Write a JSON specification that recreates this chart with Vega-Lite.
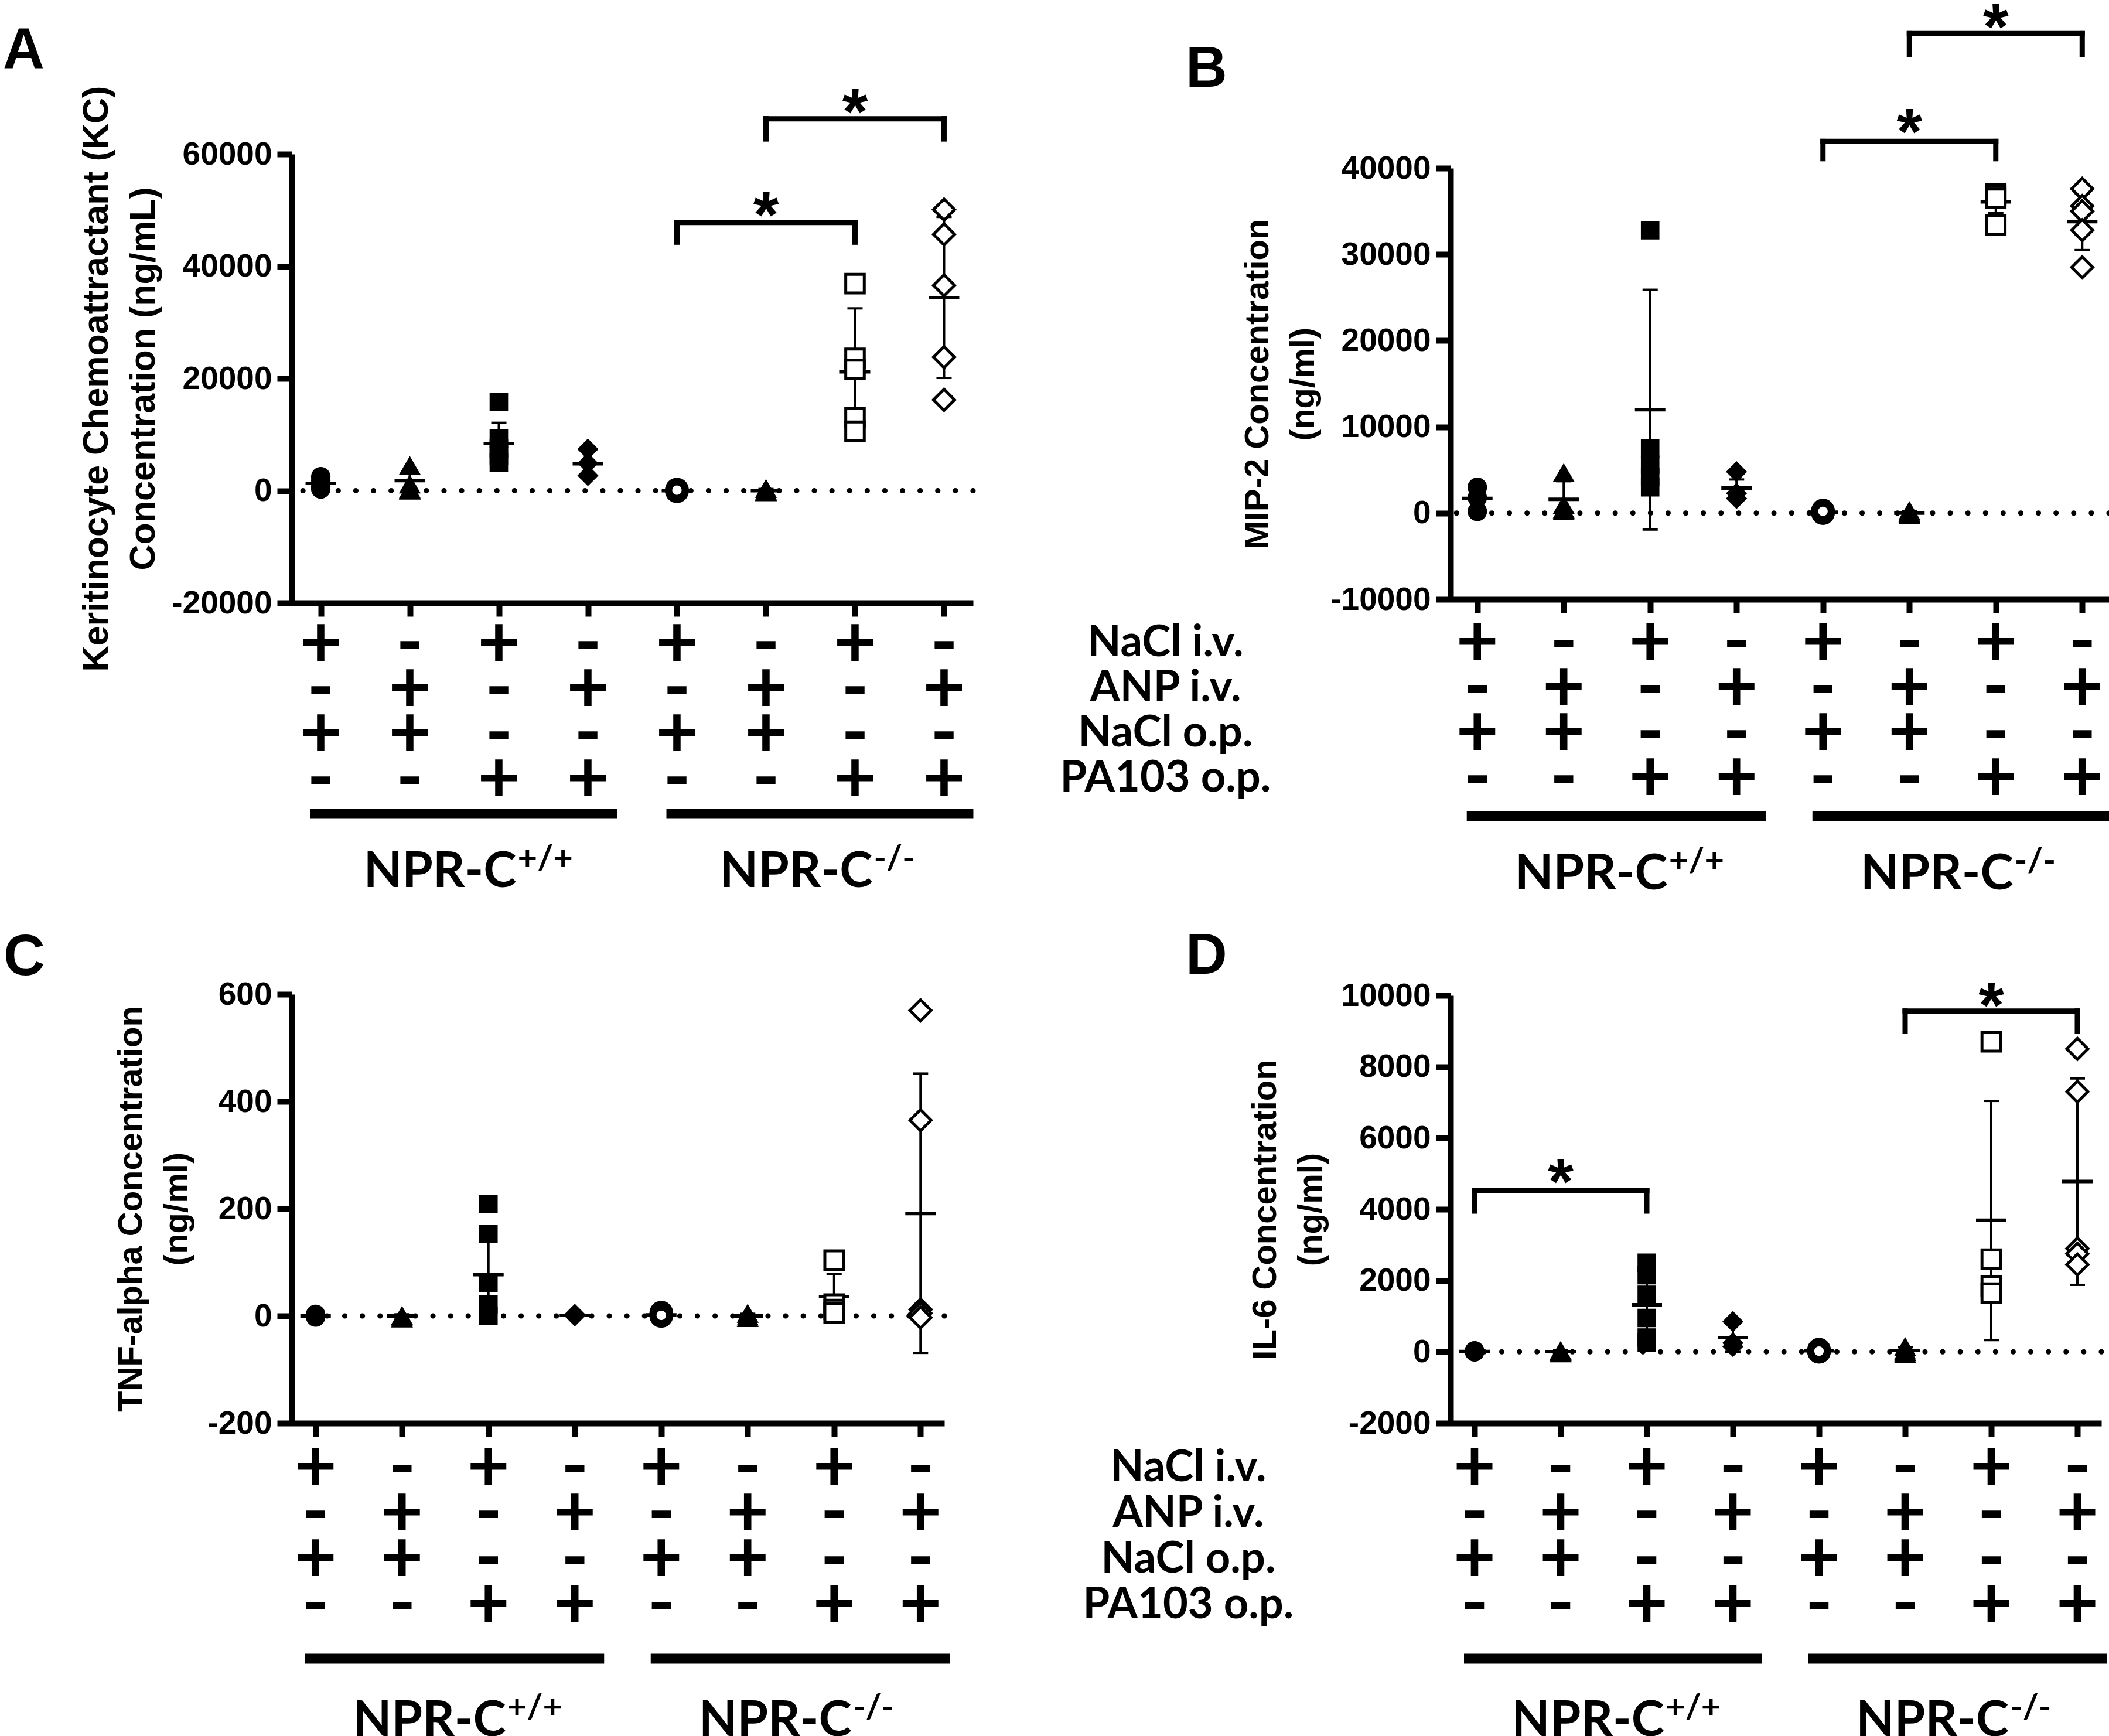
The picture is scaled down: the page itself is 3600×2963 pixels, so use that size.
{
"$schema": "https://vega.github.io/schema/vega-lite/v6.json",
"background": "white",
"padding": {"left": 5, "top": -7, "right": 0, "bottom": 0},
"autosize": {"type": "pad"},
"config": {
  "view": {"stroke": null},
  "axis": {"grid": false, "domainColor": "black", "tickColor": "black", "labelColor": "black", "titleColor": "black", "labelFont": "Liberation Sans", "titleFont": "Liberation Sans", "labelFontWeight": "bold", "titleFontWeight": "bold"}
},
"datasets": {
  "pts": [
    {"p":"A","g":1,"v":2500},{"p":"A","g":1,"v":1800},{"p":"A","g":1,"v":700},{"p":"A","g":1,"v":300},
    {"p":"A","g":2,"v":4500},{"p":"A","g":2,"v":1200},{"p":"A","g":2,"v":300},{"p":"A","g":2,"v":100},
    {"p":"A","g":3,"v":15800},{"p":"A","g":3,"v":9300},{"p":"A","g":3,"v":7500},{"p":"A","g":3,"v":6200},{"p":"A","g":3,"v":5000},
    {"p":"A","g":4,"v":7400},{"p":"A","g":4,"v":4900},{"p":"A","g":4,"v":2700},
    {"p":"A","g":5,"v":200},{"p":"A","g":5,"v":0},{"p":"A","g":5,"v":-100},{"p":"A","g":5,"v":100},
    {"p":"A","g":6,"v":400},{"p":"A","g":6,"v":0},{"p":"A","g":6,"v":-200},{"p":"A","g":6,"v":-100},
    {"p":"A","g":7,"v":36900},{"p":"A","g":7,"v":23600},{"p":"A","g":7,"v":21600},{"p":"A","g":7,"v":13000},{"p":"A","g":7,"v":10600},
    {"p":"A","g":8,"v":50100},{"p":"A","g":8,"v":45700},{"p":"A","g":8,"v":36600},{"p":"A","g":8,"v":23800},{"p":"A","g":8,"v":16200},
    {"p":"B","g":1,"v":3000},{"p":"B","g":1,"v":1800},{"p":"B","g":1,"v":200},
    {"p":"B","g":2,"v":4700},{"p":"B","g":2,"v":1000},{"p":"B","g":2,"v":500},{"p":"B","g":2,"v":300},
    {"p":"B","g":3,"v":32800},{"p":"B","g":3,"v":7500},{"p":"B","g":3,"v":5600},{"p":"B","g":3,"v":4200},{"p":"B","g":3,"v":3000},
    {"p":"B","g":4,"v":4800},{"p":"B","g":4,"v":2300},{"p":"B","g":4,"v":1700},
    {"p":"B","g":5,"v":300},{"p":"B","g":5,"v":100},{"p":"B","g":5,"v":0},{"p":"B","g":5,"v":200},
    {"p":"B","g":6,"v":-200},{"p":"B","g":6,"v":100},{"p":"B","g":6,"v":300},{"p":"B","g":6,"v":0},
    {"p":"B","g":7,"v":37000},{"p":"B","g":7,"v":36800},{"p":"B","g":7,"v":36500},{"p":"B","g":7,"v":33400},
    {"p":"B","g":8,"v":37600},{"p":"B","g":8,"v":35600},{"p":"B","g":8,"v":35000},{"p":"B","g":8,"v":32800},{"p":"B","g":8,"v":28500},
    {"p":"C","g":1,"v":3},{"p":"C","g":1,"v":0},{"p":"C","g":1,"v":-2},{"p":"C","g":1,"v":1},
    {"p":"C","g":2,"v":-2},{"p":"C","g":2,"v":1},{"p":"C","g":2,"v":0},{"p":"C","g":2,"v":-4},
    {"p":"C","g":3,"v":209},{"p":"C","g":3,"v":153},{"p":"C","g":3,"v":62},{"p":"C","g":3,"v":22},{"p":"C","g":3,"v":0},
    {"p":"C","g":4,"v":3},{"p":"C","g":4,"v":0},{"p":"C","g":4,"v":1},
    {"p":"C","g":5,"v":6},{"p":"C","g":5,"v":0},{"p":"C","g":5,"v":3},{"p":"C","g":5,"v":1},
    {"p":"C","g":6,"v":5},{"p":"C","g":6,"v":-3},{"p":"C","g":6,"v":0},
    {"p":"C","g":7,"v":104},{"p":"C","g":7,"v":22},{"p":"C","g":7,"v":12},{"p":"C","g":7,"v":5},
    {"p":"C","g":8,"v":570},{"p":"C","g":8,"v":365},{"p":"C","g":8,"v":12},{"p":"C","g":8,"v":5},{"p":"C","g":8,"v":-3},
    {"p":"D","g":1,"v":30},{"p":"D","g":1,"v":0},{"p":"D","g":1,"v":10},{"p":"D","g":1,"v":20},
    {"p":"D","g":2,"v":40},{"p":"D","g":2,"v":-30},{"p":"D","g":2,"v":0},{"p":"D","g":2,"v":10},
    {"p":"D","g":3,"v":2500},{"p":"D","g":3,"v":2150},{"p":"D","g":3,"v":1600},{"p":"D","g":3,"v":950},{"p":"D","g":3,"v":400},{"p":"D","g":3,"v":250},
    {"p":"D","g":4,"v":850},{"p":"D","g":4,"v":250},{"p":"D","g":4,"v":150},
    {"p":"D","g":5,"v":60},{"p":"D","g":5,"v":0},{"p":"D","g":5,"v":20},
    {"p":"D","g":6,"v":150},{"p":"D","g":6,"v":-50},{"p":"D","g":6,"v":0},{"p":"D","g":6,"v":50},
    {"p":"D","g":7,"v":8700},{"p":"D","g":7,"v":2600},{"p":"D","g":7,"v":1850},{"p":"D","g":7,"v":1650},
    {"p":"D","g":8,"v":8500},{"p":"D","g":8,"v":7300},{"p":"D","g":8,"v":2900},{"p":"D","g":8,"v":2750},{"p":"D","g":8,"v":2450}
  ],
  "sum": [
    {"p":"A","g":1,"m":1300,"lo":300,"hi":2300},{"p":"A","g":2,"m":1800,"lo":-100,"hi":3700},{"p":"A","g":3,"m":8400,"lo":4700,"hi":12100},{"p":"A","g":4,"m":4800,"lo":2400,"hi":7200},
    {"p":"A","g":5,"m":0,"lo":-200,"hi":200},{"p":"A","g":6,"m":0,"lo":-300,"hi":300},{"p":"A","g":7,"m":21200,"lo":9900,"hi":32500},{"p":"A","g":8,"m":34400,"lo":20100,"hi":48800},
    {"p":"B","g":1,"m":1700,"lo":300,"hi":3100},{"p":"B","g":2,"m":1600,"lo":-400,"hi":3700},{"p":"B","g":3,"m":12000,"lo":-1900,"hi":25900},{"p":"B","g":4,"m":2900,"lo":1700,"hi":3900},
    {"p":"B","g":5,"m":100,"lo":-100,"hi":300},{"p":"B","g":6,"m":0,"lo":-200,"hi":200},{"p":"B","g":7,"m":36100,"lo":34800,"hi":37400},{"p":"B","g":8,"m":33800,"lo":30500,"hi":37100},
    {"p":"C","g":1,"m":0,"lo":-2,"hi":2},{"p":"C","g":2,"m":0,"lo":-3,"hi":3},{"p":"C","g":3,"m":77,"lo":15,"hi":138},{"p":"C","g":4,"m":1,"lo":-1,"hi":3},
    {"p":"C","g":5,"m":2,"lo":-1,"hi":5},{"p":"C","g":6,"m":0,"lo":-4,"hi":4},{"p":"C","g":7,"m":36,"lo":-10,"hi":78},{"p":"C","g":8,"m":191,"lo":-69,"hi":452},
    {"p":"D","g":1,"m":10,"lo":0,"hi":25},{"p":"D","g":2,"m":5,"lo":-30,"hi":40},{"p":"D","g":3,"m":1320,"lo":500,"hi":2150},{"p":"D","g":4,"m":400,"lo":0,"hi":800},
    {"p":"D","g":5,"m":30,"lo":0,"hi":60},{"p":"D","g":6,"m":40,"lo":-50,"hi":130},{"p":"D","g":7,"m":3690,"lo":330,"hi":7040},{"p":"D","g":8,"m":4780,"lo":1880,"hi":7670}
  ],
  "br": [
    {"p":"A","a":5,"b":7,"top":47800,"bot":44300},{"p":"A","a":6,"b":8,"top":66300,"bot":62700},
    {"p":"B","a":5,"b":7,"top":43100,"bot":41100},{"p":"B","a":6,"b":8,"top":55600,"bot":53200},
    {"p":"D","a":1,"b":3,"top":4520,"bot":3950},{"p":"D","a":6,"b":8,"top":9560,"bot":8990}
  ],
  "ast": [
    {"p":"A","m":6,"y":51400},{"p":"A","m":7,"y":69800},
    {"p":"B","m":6,"y":45700},{"p":"B","m":7,"y":57900},
    {"p":"D","m":2,"y":5130},{"p":"D","m":7,"y":10090}
  ],
  "tbl": [
    {"g":1,"row":"NaCl i.v.","s":"+"},{"g":2,"row":"NaCl i.v.","s":"-"},{"g":3,"row":"NaCl i.v.","s":"+"},{"g":4,"row":"NaCl i.v.","s":"-"},
    {"g":5,"row":"NaCl i.v.","s":"+"},{"g":6,"row":"NaCl i.v.","s":"-"},{"g":7,"row":"NaCl i.v.","s":"+"},{"g":8,"row":"NaCl i.v.","s":"-"},
    {"g":1,"row":"ANP i.v.","s":"-"},{"g":2,"row":"ANP i.v.","s":"+"},{"g":3,"row":"ANP i.v.","s":"-"},{"g":4,"row":"ANP i.v.","s":"+"},
    {"g":5,"row":"ANP i.v.","s":"-"},{"g":6,"row":"ANP i.v.","s":"+"},{"g":7,"row":"ANP i.v.","s":"-"},{"g":8,"row":"ANP i.v.","s":"+"},
    {"g":1,"row":"NaCl o.p.","s":"+"},{"g":2,"row":"NaCl o.p.","s":"+"},{"g":3,"row":"NaCl o.p.","s":"-"},{"g":4,"row":"NaCl o.p.","s":"-"},
    {"g":5,"row":"NaCl o.p.","s":"+"},{"g":6,"row":"NaCl o.p.","s":"+"},{"g":7,"row":"NaCl o.p.","s":"-"},{"g":8,"row":"NaCl o.p.","s":"-"},
    {"g":1,"row":"PA103 o.p.","s":"-"},{"g":2,"row":"PA103 o.p.","s":"-"},{"g":3,"row":"PA103 o.p.","s":"+"},{"g":4,"row":"PA103 o.p.","s":"+"},
    {"g":5,"row":"PA103 o.p.","s":"-"},{"g":6,"row":"PA103 o.p.","s":"-"},{"g":7,"row":"PA103 o.p.","s":"+"},{"g":8,"row":"PA103 o.p.","s":"+"}
  ],
  "grp": [
    {"a":1,"b":4,"m":3,"sup":"+/+"},{"a":5,"b":8,"m":7,"sup":"-/-"}
  ]
},
"spacing": 1978,
"bounds": "flush",
"resolve": {"scale": {"x": "independent", "y": "independent", "shape": "independent", "size": "independent"}},
"hconcat": [
 {
  "spacing": 0,
  "bounds": "flush",
  "resolve": {"scale": {"x": "independent", "y": "independent", "shape": "independent", "size": "independent"}},
  "vconcat": [
  {"width": 1163, "height": 262, "data": {"values": [{}]}, "mark": {"type": "rule", "opacity": 0}, "encoding": {}},
  {
    "width": 1163, "height": 766,
    "title": {"text": "A", "anchor": "start", "frame": "group", "dx": -493, "offset": -75, "fontSize": 98, "font": "Liberation Sans", "fontWeight": "bold", "color": "black", "baseline": "alphabetic"},
    "layer": [
      {"data": {"values": [{"z": 0}]},
       "mark": {"type": "rule", "strokeDash": [0.1, 30], "strokeCap": "round", "strokeWidth": 9, "color": "black"},
       "encoding": {"y": {"field": "z", "type": "quantitative", "scale": {"domain": [-20000, 60000], "nice": false, "zero": false},
         "axis": {"values": [-20000, 0, 20000, 40000, 60000], "labelExpr": "'' + datum.value", "title": ["Keritinocyte Chemoattractant (KC)", "Concentration (ng/mL)"], "titleFontSize": 61, "titleLineHeight": 80, "titlePadding": 22, "titleLimit": 3000, "labelFontSize": 55, "labelPadding": 9, "labelLimit": 1000, "labelOverlap": false, "labelFlush": false, "tickSize": 25, "tickWidth": 10, "domainWidth": 10}}}},
      {"data": {"name": "sum"}, "transform": [{"filter": "datum.p == 'A'"}],
       "mark": {"type": "rule", "strokeWidth": 4, "color": "black"},
       "encoding": {"x": {"field": "g", "type": "ordinal", "scale": {"type": "point", "domain": [1,2,3,4,5,6,7,8], "padding": 0.326}, "axis": {"labels": false, "title": null, "tickSize": 23, "tickWidth": 10, "domainWidth": 10}},
         "y": {"field": "lo", "type": "quantitative"}, "y2": {"field": "hi"}}},
      {"data": {"name": "sum"}, "transform": [{"filter": "datum.p == 'A'"}],
       "mark": {"type": "tick", "thickness": 4, "size": 26, "color": "black", "opacity": 1},
       "encoding": {"x": {"field": "g", "type": "ordinal"}, "y": {"field": "lo", "type": "quantitative"}}},
      {"data": {"name": "sum"}, "transform": [{"filter": "datum.p == 'A'"}],
       "mark": {"type": "tick", "thickness": 4, "size": 26, "color": "black", "opacity": 1},
       "encoding": {"x": {"field": "g", "type": "ordinal"}, "y": {"field": "hi", "type": "quantitative"}}},
      {"data": {"name": "sum"}, "transform": [{"filter": "datum.p == 'A'"}],
       "mark": {"type": "tick", "thickness": 6, "size": 52, "color": "black", "opacity": 1},
       "encoding": {"x": {"field": "g", "type": "ordinal"}, "y": {"field": "m", "type": "quantitative"}}},
      {"data": {"name": "pts"}, "transform": [{"filter": "datum.p == 'A' && (datum.g <= 4 || datum.g == 6)"}],
       "mark": {"type": "point", "filled": true, "color": "black", "opacity": 1},
       "encoding": {"x": {"field": "g", "type": "ordinal"}, "y": {"field": "v", "type": "quantitative"},
         "shape": {"field": "g", "type": "nominal", "scale": {"domain": [1,2,3,4,5,6,7,8], "range": ["circle","triangle-up","square","diamond","circle","triangle-up","square","diamond"]}, "legend": null},
         "size": {"field": "g", "type": "nominal", "scale": {"type": "ordinal", "domain": [1,2,3,4,5,6,7,8], "range": [1100,1400,1000,1300,800,1400,1000,1300]}, "legend": null}}},
      {"data": {"name": "pts"}, "transform": [{"filter": "datum.p == 'A' && datum.g == 5"}],
       "mark": {"type": "point", "shape": "circle", "filled": false, "stroke": "black", "fill": "white", "fillOpacity": 1, "opacity": 1, "strokeWidth": 12, "size": 800},
       "encoding": {"x": {"field": "g", "type": "ordinal"}, "y": {"field": "v", "type": "quantitative"}}},
      {"data": {"name": "pts"}, "transform": [{"filter": "datum.p == 'A' && datum.g == 7"}],
       "mark": {"type": "point", "shape": "square", "filled": false, "stroke": "black", "fill": "white", "fillOpacity": 1, "opacity": 1, "strokeWidth": 5, "size": 1000},
       "encoding": {"x": {"field": "g", "type": "ordinal"}, "y": {"field": "v", "type": "quantitative"}}},
      {"data": {"name": "pts"}, "transform": [{"filter": "datum.p == 'A' && datum.g == 8"}],
       "mark": {"type": "point", "shape": "diamond", "filled": false, "stroke": "black", "fill": "white", "fillOpacity": 1, "opacity": 1, "strokeWidth": 5, "size": 1300},
       "encoding": {"x": {"field": "g", "type": "ordinal"}, "y": {"field": "v", "type": "quantitative"}}},
      {"data": {"name": "br"}, "transform": [{"filter": "datum.p == 'A'"}],
       "mark": {"type": "rule", "strokeWidth": 9, "color": "black", "strokeCap": "square"},
       "encoding": {"x": {"field": "a", "type": "ordinal"}, "x2": {"field": "b"}, "y": {"field": "top", "type": "quantitative"}}},
      {"data": {"name": "br"}, "transform": [{"filter": "datum.p == 'A'"}],
       "mark": {"type": "rule", "strokeWidth": 9, "color": "black", "strokeCap": "square"},
       "encoding": {"x": {"field": "a", "type": "ordinal"}, "y": {"field": "top", "type": "quantitative"}, "y2": {"field": "bot"}}},
      {"data": {"name": "br"}, "transform": [{"filter": "datum.p == 'A'"}],
       "mark": {"type": "rule", "strokeWidth": 9, "color": "black", "strokeCap": "square"},
       "encoding": {"x": {"field": "b", "type": "ordinal"}, "y": {"field": "top", "type": "quantitative"}, "y2": {"field": "bot"}}},
      {"data": {"name": "ast"}, "transform": [{"filter": "datum.p == 'A'"}],
       "mark": {"type": "text", "text": "*", "font": "Liberation Sans", "fontWeight": "bold", "fontSize": 112, "color": "black", "align": "center", "baseline": "alphabetic", "dy": 60},
       "encoding": {"x": {"field": "m", "type": "ordinal"}, "y": {"field": "y", "type": "quantitative"}}}
    ]
  },
  {
    "width": 1163, "height": 668,
    "layer": [
      {"data": {"name": "tbl"},
       "mark": {"type": "text", "font": "Lato", "fontWeight": "bold", "fontSize": 125, "color": "black", "align": "center", "baseline": "middle"},
       "encoding": {"x": {"field": "g", "type": "ordinal", "scale": {"type": "point", "domain": [1,2,3,4,5,6,7,8], "padding": 0.326}, "axis": null},
         "y": {"field": "row", "type": "ordinal", "scale": {"type": "point", "domain": ["NaCl i.v.", "ANP i.v.", "NaCl o.p.", "PA103 o.p.", "bar", "lab", "e1", "e2"], "padding": 0.8377, "align": 0.5504}, "axis": null},
         "text": {"field": "s"}}},
      {"data": {"name": "grp"},
       "mark": {"type": "rule", "strokeWidth": 17, "color": "black", "xOffset": -18, "x2Offset": 50, "yOffset": -19},
       "encoding": {"x": {"field": "a", "type": "ordinal", "axis": null}, "x2": {"field": "b"}, "y": {"datum": "bar", "type": "ordinal", "axis": null}}},
      {"data": {"name": "grp"},
       "mark": {"type": "text", "text": "NPR-C", "font": "Lato", "fontWeight": "bold", "fontSize": 85, "color": "black", "align": "right", "baseline": "alphabetic", "dx": 30, "dy": 29},
       "encoding": {"x": {"field": "m", "type": "ordinal", "axis": null}, "y": {"datum": "lab", "type": "ordinal", "axis": null}}},
      {"data": {"name": "grp"},
       "mark": {"type": "text", "font": "Lato", "fontWeight": "bold", "fontSize": 58, "color": "black", "align": "left", "baseline": "alphabetic", "dx": 32, "dy": -1},
       "encoding": {"x": {"field": "m", "type": "ordinal", "axis": null}, "y": {"datum": "lab", "type": "ordinal", "axis": null}, "text": {"field": "sup"}}}
    ]
  },
  {
    "width": 1114, "height": 732,
    "title": {"text": "C", "anchor": "start", "frame": "group", "dx": -492, "offset": -92, "fontSize": 98, "font": "Liberation Sans", "fontWeight": "bold", "color": "black", "baseline": "alphabetic"},
    "layer": [
      {"data": {"values": [{"z": 0}]},
       "mark": {"type": "rule", "strokeDash": [0.1, 30], "strokeCap": "round", "strokeWidth": 9, "color": "black"},
       "encoding": {"y": {"field": "z", "type": "quantitative", "scale": {"domain": [-200, 600], "nice": false, "zero": false},
         "axis": {"values": [-200, 0, 200, 400, 600], "labelExpr": "'' + datum.value", "title": ["TNF-alpha Concentration", "(ng/ml)"], "titleFontSize": 58, "titleLineHeight": 78, "titlePadding": 22, "titleLimit": 3000, "labelFontSize": 55, "labelPadding": 9, "labelLimit": 1000, "labelOverlap": false, "labelFlush": false, "tickSize": 25, "tickWidth": 10, "domainWidth": 10}}}},
      {"data": {"name": "sum"}, "transform": [{"filter": "datum.p == 'C'"}],
       "mark": {"type": "rule", "strokeWidth": 4, "color": "black"},
       "encoding": {"x": {"field": "g", "type": "ordinal", "scale": {"type": "point", "domain": [1,2,3,4,5,6,7,8], "padding": 0.276}, "axis": {"labels": false, "title": null, "tickSize": 23, "tickWidth": 10, "domainWidth": 10}},
         "y": {"field": "lo", "type": "quantitative"}, "y2": {"field": "hi"}}},
      {"data": {"name": "sum"}, "transform": [{"filter": "datum.p == 'C'"}],
       "mark": {"type": "tick", "thickness": 4, "size": 26, "color": "black", "opacity": 1},
       "encoding": {"x": {"field": "g", "type": "ordinal"}, "y": {"field": "lo", "type": "quantitative"}}},
      {"data": {"name": "sum"}, "transform": [{"filter": "datum.p == 'C'"}],
       "mark": {"type": "tick", "thickness": 4, "size": 26, "color": "black", "opacity": 1},
       "encoding": {"x": {"field": "g", "type": "ordinal"}, "y": {"field": "hi", "type": "quantitative"}}},
      {"data": {"name": "sum"}, "transform": [{"filter": "datum.p == 'C'"}],
       "mark": {"type": "tick", "thickness": 6, "size": 52, "color": "black", "opacity": 1},
       "encoding": {"x": {"field": "g", "type": "ordinal"}, "y": {"field": "m", "type": "quantitative"}}},
      {"data": {"name": "pts"}, "transform": [{"filter": "datum.p == 'C' && (datum.g <= 4 || datum.g == 6)"}],
       "mark": {"type": "point", "filled": true, "color": "black", "opacity": 1},
       "encoding": {"x": {"field": "g", "type": "ordinal"}, "y": {"field": "v", "type": "quantitative"},
         "shape": {"field": "g", "type": "nominal", "scale": {"domain": [1,2,3,4,5,6,7,8], "range": ["circle","triangle-up","square","diamond","circle","triangle-up","square","diamond"]}, "legend": null},
         "size": {"field": "g", "type": "nominal", "scale": {"type": "ordinal", "domain": [1,2,3,4,5,6,7,8], "range": [1100,1400,1000,1300,800,1400,1000,1300]}, "legend": null}}},
      {"data": {"name": "pts"}, "transform": [{"filter": "datum.p == 'C' && datum.g == 5"}],
       "mark": {"type": "point", "shape": "circle", "filled": false, "stroke": "black", "fill": "white", "fillOpacity": 1, "opacity": 1, "strokeWidth": 12, "size": 800},
       "encoding": {"x": {"field": "g", "type": "ordinal"}, "y": {"field": "v", "type": "quantitative"}}},
      {"data": {"name": "pts"}, "transform": [{"filter": "datum.p == 'C' && datum.g == 7"}],
       "mark": {"type": "point", "shape": "square", "filled": false, "stroke": "black", "fill": "white", "fillOpacity": 1, "opacity": 1, "strokeWidth": 5, "size": 1000},
       "encoding": {"x": {"field": "g", "type": "ordinal"}, "y": {"field": "v", "type": "quantitative"}}},
      {"data": {"name": "pts"}, "transform": [{"filter": "datum.p == 'C' && datum.g == 8"}],
       "mark": {"type": "point", "shape": "diamond", "filled": false, "stroke": "black", "fill": "white", "fillOpacity": 1, "opacity": 1, "strokeWidth": 5, "size": 1300},
       "encoding": {"x": {"field": "g", "type": "ordinal"}, "y": {"field": "v", "type": "quantitative"}}}
    ]
  },
  {
    "width": 1114, "height": 535,
    "layer": [
      {"data": {"name": "tbl"},
       "mark": {"type": "text", "font": "Lato", "fontWeight": "bold", "fontSize": 125, "color": "black", "align": "center", "baseline": "middle"},
       "encoding": {"x": {"field": "g", "type": "ordinal", "scale": {"type": "point", "domain": [1,2,3,4,5,6,7,8], "padding": 0.276}, "axis": null},
         "y": {"field": "row", "type": "ordinal", "scale": {"type": "point", "domain": ["NaCl i.v.", "ANP i.v.", "NaCl o.p.", "PA103 o.p.", "bar", "lab"], "padding": 0.9295, "align": 0.531}, "axis": null},
         "text": {"field": "s"}}},
      {"data": {"name": "grp"},
       "mark": {"type": "rule", "strokeWidth": 17, "color": "black", "xOffset": -18, "x2Offset": 50, "yOffset": 13},
       "encoding": {"x": {"field": "a", "type": "ordinal", "axis": null}, "x2": {"field": "b"}, "y": {"datum": "bar", "type": "ordinal", "axis": null}}},
      {"data": {"name": "grp"},
       "mark": {"type": "text", "text": "NPR-C", "font": "Lato", "fontWeight": "bold", "fontSize": 85, "color": "black", "align": "right", "baseline": "alphabetic", "dx": 30, "dy": 67},
       "encoding": {"x": {"field": "m", "type": "ordinal", "axis": null}, "y": {"datum": "lab", "type": "ordinal", "axis": null}}},
      {"data": {"name": "grp"},
       "mark": {"type": "text", "font": "Lato", "fontWeight": "bold", "fontSize": 58, "color": "black", "align": "left", "baseline": "alphabetic", "dx": 32, "dy": 37},
       "encoding": {"x": {"field": "m", "type": "ordinal", "axis": null}, "y": {"datum": "lab", "type": "ordinal", "axis": null}, "text": {"field": "sup"}}}
    ]
  }
  ]
 },
 {
  "spacing": 0,
  "bounds": "flush",
  "resolve": {"scale": {"x": "independent", "y": "independent", "shape": "independent", "size": "independent"}},
  "vconcat": [
  {"width": 1124, "height": 286, "data": {"values": [{}]}, "mark": {"type": "rule", "opacity": 0}, "encoding": {}},
  {
    "width": 1124, "height": 736,
    "title": {"text": "B", "anchor": "start", "frame": "group", "dx": -452, "offset": -252, "fontSize": 98, "font": "Liberation Sans", "fontWeight": "bold", "color": "black", "baseline": "alphabetic"},
    "layer": [
      {"data": {"values": [{"z": 0}]},
       "mark": {"type": "rule", "strokeDash": [0.1, 30], "strokeCap": "round", "strokeWidth": 9, "color": "black"},
       "encoding": {"y": {"field": "z", "type": "quantitative", "scale": {"domain": [-10000, 40000], "nice": false, "zero": false},
         "axis": {"values": [-10000, 0, 10000, 20000, 30000, 40000], "labelExpr": "'' + datum.value", "title": ["MIP-2 Concentration", "(ng/ml)"], "titleFontSize": 58, "titleLineHeight": 78, "titlePadding": 22, "titleLimit": 3000, "labelFontSize": 55, "labelPadding": 9, "labelLimit": 1000, "labelOverlap": false, "labelFlush": false, "tickSize": 25, "tickWidth": 10, "domainWidth": 10}}}},
      {"data": {"name": "sum"}, "transform": [{"filter": "datum.p == 'B'"}],
       "mark": {"type": "rule", "strokeWidth": 4, "color": "black"},
       "encoding": {"x": {"field": "g", "type": "ordinal", "scale": {"type": "point", "domain": [1,2,3,4,5,6,7,8], "padding": 0.31}, "axis": {"labels": false, "title": null, "tickSize": 23, "tickWidth": 10, "domainWidth": 10}},
         "y": {"field": "lo", "type": "quantitative"}, "y2": {"field": "hi"}}},
      {"data": {"name": "sum"}, "transform": [{"filter": "datum.p == 'B'"}],
       "mark": {"type": "tick", "thickness": 4, "size": 26, "color": "black", "opacity": 1},
       "encoding": {"x": {"field": "g", "type": "ordinal"}, "y": {"field": "lo", "type": "quantitative"}}},
      {"data": {"name": "sum"}, "transform": [{"filter": "datum.p == 'B'"}],
       "mark": {"type": "tick", "thickness": 4, "size": 26, "color": "black", "opacity": 1},
       "encoding": {"x": {"field": "g", "type": "ordinal"}, "y": {"field": "hi", "type": "quantitative"}}},
      {"data": {"name": "sum"}, "transform": [{"filter": "datum.p == 'B'"}],
       "mark": {"type": "tick", "thickness": 6, "size": 52, "color": "black", "opacity": 1},
       "encoding": {"x": {"field": "g", "type": "ordinal"}, "y": {"field": "m", "type": "quantitative"}}},
      {"data": {"name": "pts"}, "transform": [{"filter": "datum.p == 'B' && (datum.g <= 4 || datum.g == 6)"}],
       "mark": {"type": "point", "filled": true, "color": "black", "opacity": 1},
       "encoding": {"x": {"field": "g", "type": "ordinal"}, "y": {"field": "v", "type": "quantitative"},
         "shape": {"field": "g", "type": "nominal", "scale": {"domain": [1,2,3,4,5,6,7,8], "range": ["circle","triangle-up","square","diamond","circle","triangle-up","square","diamond"]}, "legend": null},
         "size": {"field": "g", "type": "nominal", "scale": {"type": "ordinal", "domain": [1,2,3,4,5,6,7,8], "range": [1100,1400,1000,1300,800,1400,1000,1300]}, "legend": null}}},
      {"data": {"name": "pts"}, "transform": [{"filter": "datum.p == 'B' && datum.g == 5"}],
       "mark": {"type": "point", "shape": "circle", "filled": false, "stroke": "black", "fill": "white", "fillOpacity": 1, "opacity": 1, "strokeWidth": 12, "size": 800},
       "encoding": {"x": {"field": "g", "type": "ordinal"}, "y": {"field": "v", "type": "quantitative"}}},
      {"data": {"name": "pts"}, "transform": [{"filter": "datum.p == 'B' && datum.g == 7"}],
       "mark": {"type": "point", "shape": "square", "filled": false, "stroke": "black", "fill": "white", "fillOpacity": 1, "opacity": 1, "strokeWidth": 5, "size": 1000},
       "encoding": {"x": {"field": "g", "type": "ordinal"}, "y": {"field": "v", "type": "quantitative"}}},
      {"data": {"name": "pts"}, "transform": [{"filter": "datum.p == 'B' && datum.g == 8"}],
       "mark": {"type": "point", "shape": "diamond", "filled": false, "stroke": "black", "fill": "white", "fillOpacity": 1, "opacity": 1, "strokeWidth": 5, "size": 1300},
       "encoding": {"x": {"field": "g", "type": "ordinal"}, "y": {"field": "v", "type": "quantitative"}}},
      {"data": {"name": "br"}, "transform": [{"filter": "datum.p == 'B'"}],
       "mark": {"type": "rule", "strokeWidth": 9, "color": "black", "strokeCap": "square"},
       "encoding": {"x": {"field": "a", "type": "ordinal"}, "x2": {"field": "b"}, "y": {"field": "top", "type": "quantitative"}}},
      {"data": {"name": "br"}, "transform": [{"filter": "datum.p == 'B'"}],
       "mark": {"type": "rule", "strokeWidth": 9, "color": "black", "strokeCap": "square"},
       "encoding": {"x": {"field": "a", "type": "ordinal"}, "y": {"field": "top", "type": "quantitative"}, "y2": {"field": "bot"}}},
      {"data": {"name": "br"}, "transform": [{"filter": "datum.p == 'B'"}],
       "mark": {"type": "rule", "strokeWidth": 9, "color": "black", "strokeCap": "square"},
       "encoding": {"x": {"field": "b", "type": "ordinal"}, "y": {"field": "top", "type": "quantitative"}, "y2": {"field": "bot"}}},
      {"data": {"name": "ast"}, "transform": [{"filter": "datum.p == 'B'"}],
       "mark": {"type": "text", "text": "*", "font": "Liberation Sans", "fontWeight": "bold", "fontSize": 112, "color": "black", "align": "center", "baseline": "alphabetic", "dy": 60},
       "encoding": {"x": {"field": "m", "type": "ordinal"}, "y": {"field": "y", "type": "quantitative"}}}
    ]
  },
  {
    "width": 1124, "height": 676,
    "layer": [
      {"data": {"name": "tbl"},
       "mark": {"type": "text", "font": "Lato", "fontWeight": "bold", "fontSize": 125, "color": "black", "align": "center", "baseline": "middle"},
       "encoding": {"x": {"field": "g", "type": "ordinal", "scale": {"type": "point", "domain": [1,2,3,4,5,6,7,8], "padding": 0.31}, "axis": null},
         "y": {"field": "row", "type": "ordinal", "scale": {"type": "point", "domain": ["NaCl i.v.", "ANP i.v.", "NaCl o.p.", "PA103 o.p.", "bar", "lab", "e1", "e2"], "padding": 0.8896, "align": 0.5474},
           "axis": {"values": ["NaCl i.v.", "ANP i.v.", "NaCl o.p.", "PA103 o.p."], "domain": false, "ticks": false, "tickSize": 0, "labelPadding": 487, "labelAlign": "center", "labelBaseline": "middle", "labelFont": "Lato", "labelFontWeight": "bold", "labelFontSize": 74, "labelLimit": 2000, "labelOverlap": false, "title": null}},
         "text": {"field": "s"}}},
      {"data": {"name": "grp"},
       "mark": {"type": "rule", "strokeWidth": 17, "color": "black", "xOffset": -18, "x2Offset": 50, "yOffset": -13},
       "encoding": {"x": {"field": "a", "type": "ordinal", "axis": null}, "x2": {"field": "b"}, "y": {"datum": "bar", "type": "ordinal"}}},
      {"data": {"name": "grp"},
       "mark": {"type": "text", "text": "NPR-C", "font": "Lato", "fontWeight": "bold", "fontSize": 85, "color": "black", "align": "right", "baseline": "alphabetic", "dx": 30, "dy": 35},
       "encoding": {"x": {"field": "m", "type": "ordinal", "axis": null}, "y": {"datum": "lab", "type": "ordinal"}}},
      {"data": {"name": "grp"},
       "mark": {"type": "text", "font": "Lato", "fontWeight": "bold", "fontSize": 58, "color": "black", "align": "left", "baseline": "alphabetic", "dx": 32, "dy": 5},
       "encoding": {"x": {"field": "m", "type": "ordinal", "axis": null}, "y": {"datum": "lab", "type": "ordinal"}, "text": {"field": "sup"}}}
    ]
  },
  {
    "width": 1111, "height": 730,
    "title": {"text": "D", "anchor": "start", "frame": "group", "dx": -452, "offset": -96, "fontSize": 98, "font": "Liberation Sans", "fontWeight": "bold", "color": "black", "baseline": "alphabetic"},
    "layer": [
      {"data": {"values": [{"z": 0}]},
       "mark": {"type": "rule", "strokeDash": [0.1, 30], "strokeCap": "round", "strokeWidth": 9, "color": "black"},
       "encoding": {"y": {"field": "z", "type": "quantitative", "scale": {"domain": [-2000, 10000], "nice": false, "zero": false},
         "axis": {"values": [-2000, 0, 2000, 4000, 6000, 8000, 10000], "labelExpr": "'' + datum.value", "title": ["IL-6 Concentration", "(ng/ml)"], "titleFontSize": 58, "titleLineHeight": 78, "titlePadding": 22, "titleLimit": 3000, "labelFontSize": 55, "labelPadding": 9, "labelLimit": 1000, "labelOverlap": false, "labelFlush": false, "tickSize": 25, "tickWidth": 10, "domainWidth": 10}}}},
      {"data": {"name": "sum"}, "transform": [{"filter": "datum.p == 'D'"}],
       "mark": {"type": "rule", "strokeWidth": 4, "color": "black"},
       "encoding": {"x": {"field": "g", "type": "ordinal", "scale": {"type": "point", "domain": [1,2,3,4,5,6,7,8], "padding": 0.279}, "axis": {"labels": false, "title": null, "tickSize": 23, "tickWidth": 10, "domainWidth": 10}},
         "y": {"field": "lo", "type": "quantitative"}, "y2": {"field": "hi"}}},
      {"data": {"name": "sum"}, "transform": [{"filter": "datum.p == 'D'"}],
       "mark": {"type": "tick", "thickness": 4, "size": 26, "color": "black", "opacity": 1},
       "encoding": {"x": {"field": "g", "type": "ordinal"}, "y": {"field": "lo", "type": "quantitative"}}},
      {"data": {"name": "sum"}, "transform": [{"filter": "datum.p == 'D'"}],
       "mark": {"type": "tick", "thickness": 4, "size": 26, "color": "black", "opacity": 1},
       "encoding": {"x": {"field": "g", "type": "ordinal"}, "y": {"field": "hi", "type": "quantitative"}}},
      {"data": {"name": "sum"}, "transform": [{"filter": "datum.p == 'D'"}],
       "mark": {"type": "tick", "thickness": 6, "size": 52, "color": "black", "opacity": 1},
       "encoding": {"x": {"field": "g", "type": "ordinal"}, "y": {"field": "m", "type": "quantitative"}}},
      {"data": {"name": "pts"}, "transform": [{"filter": "datum.p == 'D' && (datum.g <= 4 || datum.g == 6)"}],
       "mark": {"type": "point", "filled": true, "color": "black", "opacity": 1},
       "encoding": {"x": {"field": "g", "type": "ordinal"}, "y": {"field": "v", "type": "quantitative"},
         "shape": {"field": "g", "type": "nominal", "scale": {"domain": [1,2,3,4,5,6,7,8], "range": ["circle","triangle-up","square","diamond","circle","triangle-up","square","diamond"]}, "legend": null},
         "size": {"field": "g", "type": "nominal", "scale": {"type": "ordinal", "domain": [1,2,3,4,5,6,7,8], "range": [1100,1400,1000,1300,800,1400,1000,1300]}, "legend": null}}},
      {"data": {"name": "pts"}, "transform": [{"filter": "datum.p == 'D' && datum.g == 5"}],
       "mark": {"type": "point", "shape": "circle", "filled": false, "stroke": "black", "fill": "white", "fillOpacity": 1, "opacity": 1, "strokeWidth": 12, "size": 800},
       "encoding": {"x": {"field": "g", "type": "ordinal"}, "y": {"field": "v", "type": "quantitative"}}},
      {"data": {"name": "pts"}, "transform": [{"filter": "datum.p == 'D' && datum.g == 7"}],
       "mark": {"type": "point", "shape": "square", "filled": false, "stroke": "black", "fill": "white", "fillOpacity": 1, "opacity": 1, "strokeWidth": 5, "size": 1000},
       "encoding": {"x": {"field": "g", "type": "ordinal"}, "y": {"field": "v", "type": "quantitative"}}},
      {"data": {"name": "pts"}, "transform": [{"filter": "datum.p == 'D' && datum.g == 8"}],
       "mark": {"type": "point", "shape": "diamond", "filled": false, "stroke": "black", "fill": "white", "fillOpacity": 1, "opacity": 1, "strokeWidth": 5, "size": 1300},
       "encoding": {"x": {"field": "g", "type": "ordinal"}, "y": {"field": "v", "type": "quantitative"}}},
      {"data": {"name": "br"}, "transform": [{"filter": "datum.p == 'D'"}],
       "mark": {"type": "rule", "strokeWidth": 9, "color": "black", "strokeCap": "square"},
       "encoding": {"x": {"field": "a", "type": "ordinal"}, "x2": {"field": "b"}, "y": {"field": "top", "type": "quantitative"}}},
      {"data": {"name": "br"}, "transform": [{"filter": "datum.p == 'D'"}],
       "mark": {"type": "rule", "strokeWidth": 9, "color": "black", "strokeCap": "square"},
       "encoding": {"x": {"field": "a", "type": "ordinal"}, "y": {"field": "top", "type": "quantitative"}, "y2": {"field": "bot"}}},
      {"data": {"name": "br"}, "transform": [{"filter": "datum.p == 'D'"}],
       "mark": {"type": "rule", "strokeWidth": 9, "color": "black", "strokeCap": "square"},
       "encoding": {"x": {"field": "b", "type": "ordinal"}, "y": {"field": "top", "type": "quantitative"}, "y2": {"field": "bot"}}},
      {"data": {"name": "ast"}, "transform": [{"filter": "datum.p == 'D'"}],
       "mark": {"type": "text", "text": "*", "font": "Liberation Sans", "fontWeight": "bold", "fontSize": 112, "color": "black", "align": "center", "baseline": "alphabetic", "dy": 60},
       "encoding": {"x": {"field": "m", "type": "ordinal"}, "y": {"field": "y", "type": "quantitative"}}}
    ]
  },
  {
    "width": 1111, "height": 535,
    "layer": [
      {"data": {"name": "tbl"},
       "mark": {"type": "text", "font": "Lato", "fontWeight": "bold", "fontSize": 125, "color": "black", "align": "center", "baseline": "middle"},
       "encoding": {"x": {"field": "g", "type": "ordinal", "scale": {"type": "point", "domain": [1,2,3,4,5,6,7,8], "padding": 0.279}, "axis": null},
         "y": {"field": "row", "type": "ordinal", "scale": {"type": "point", "domain": ["NaCl i.v.", "ANP i.v.", "NaCl o.p.", "PA103 o.p.", "bar", "lab"], "padding": 0.9295, "align": 0.531},
           "axis": {"values": ["NaCl i.v.", "ANP i.v.", "NaCl o.p.", "PA103 o.p."], "domain": false, "ticks": false, "tickSize": 0, "labelPadding": 448, "labelAlign": "center", "labelBaseline": "middle", "labelFont": "Lato", "labelFontWeight": "bold", "labelFontSize": 74, "labelLimit": 2000, "labelOverlap": false, "title": null}},
         "text": {"field": "s"}}},
      {"data": {"name": "grp"},
       "mark": {"type": "rule", "strokeWidth": 17, "color": "black", "xOffset": -18, "x2Offset": 50, "yOffset": 13},
       "encoding": {"x": {"field": "a", "type": "ordinal", "axis": null}, "x2": {"field": "b"}, "y": {"datum": "bar", "type": "ordinal"}}},
      {"data": {"name": "grp"},
       "mark": {"type": "text", "text": "NPR-C", "font": "Lato", "fontWeight": "bold", "fontSize": 85, "color": "black", "align": "right", "baseline": "alphabetic", "dx": 30, "dy": 67},
       "encoding": {"x": {"field": "m", "type": "ordinal", "axis": null}, "y": {"datum": "lab", "type": "ordinal"}}},
      {"data": {"name": "grp"},
       "mark": {"type": "text", "font": "Lato", "fontWeight": "bold", "fontSize": 58, "color": "black", "align": "left", "baseline": "alphabetic", "dx": 32, "dy": 37},
       "encoding": {"x": {"field": "m", "type": "ordinal", "axis": null}, "y": {"datum": "lab", "type": "ordinal"}, "text": {"field": "sup"}}}
    ]
  }
  ]
 }
]
}
